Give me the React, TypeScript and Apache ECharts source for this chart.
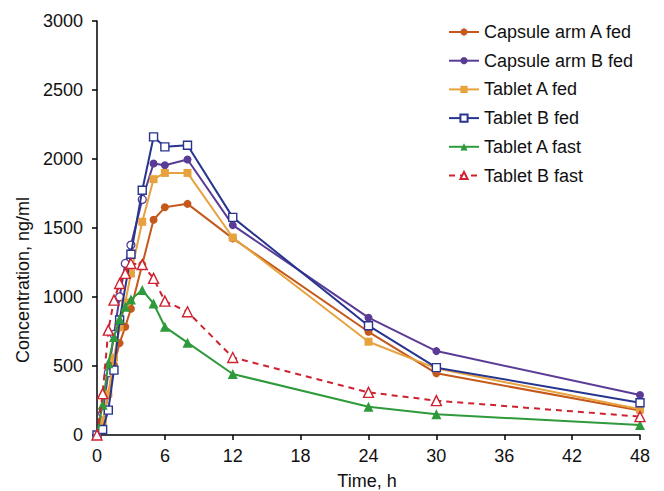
import React, { useEffect, useRef } from "react";
import * as echarts from "echarts";

const capsuleTimes = [0, 0.5, 1, 1.5, 2, 2.5, 3, 4, 5, 6, 8, 12, 24, 30, 48];
const tabletBFedTimes = [0, 0.5, 1, 1.5, 2, 3, 4, 5, 6, 8, 12, 24, 30, 48];

const capsuleAFed = [0, 96, 290, 507, 666, 784, 915, 1235, 1560, 1650, 1675, 1425, 748, 447, 178];
const capsuleBFed = [0, 157, 451, 729, 1001, 1243, 1376, 1707, 1967, 1955, 1996, 1521, 850, 608, 290];
const tabletAFed = [0, 100, 300, 560, 780, 960, 1170, 1545, 1854, 1899, 1899, 1431, 676, 483, 186];
const tabletBFed = [0, 40, 180, 470, 833, 1310, 1774, 2160, 2088, 2100, 1577, 792, 488, 234];
const tabletAFast = [0, 220, 520, 710, 840, 930, 982, 1050, 953, 784, 669, 442, 205, 150, 72];
const tabletBFast = [0, 300, 760, 977, 1098, 1171, 1243, 1235, 1135, 970, 893, 562, 309, 249, 133];

const seriesNames = [
  "Capsule arm A fed",
  "Capsule arm B fed",
  "Tablet A fed",
  "Tablet B fed",
  "Tablet A fast",
  "Tablet B fast",
];

const FONT = "'Liberation Sans', Arial, sans-serif";
const C_BROWN = "#C4591B";
const C_PURPLE = "#5A3C96";
const C_GOLD = "#E7A23E";
const C_NAVY = "#27358F";
const C_GREEN = "#2F9A3B";
const C_RED = "#CE2230";

function pairs(times: number[], vals: number[]) {
  return times.map((t, i) => [t, vals[i]]);
}

export default function App() {
  const ref = useRef<HTMLDivElement>(null);
  useEffect(() => {
    if (!ref.current) return;
    const chart = echarts.init(ref.current, null, { renderer: "svg" });
    const purpleData = capsuleTimes.map((t, i) => {
      if (t > 0 && t <= 4) {
        return {
          value: [t, capsuleBFed[i]],
          itemStyle: { color: "#ffffff", borderColor: C_PURPLE, borderWidth: 1.3 },
        };
      }
      return { value: [t, capsuleBFed[i]] };
    });
    const base = {
      type: "line",
      clip: false,
      showSymbol: true,
    };
    chart.setOption({
      animation: false,
      backgroundColor: "#ffffff",
      grid: { left: 97, right: 24, top: 21, bottom: 56, containLabel: false },
      legend: {
        orient: "vertical",
        left: 448,
        top: 23,
        padding: 0,
        itemWidth: 30,
        itemHeight: 9,
        itemGap: 10.7,
        data: seriesNames,
        textStyle: { fontFamily: FONT, fontSize: 18, color: "#111", lineHeight: 18 },
      },
      xAxis: {
        type: "value",
        min: 0,
        max: 48,
        interval: 6,
        axisLine: { show: true, lineStyle: { color: "#000", width: 1.5 } },
        axisTick: { show: true, length: 5, lineStyle: { color: "#000", width: 1.5 } },
        axisLabel: { margin: 12, fontFamily: FONT, fontSize: 18, color: "#111" },
        splitLine: { show: false },
      },
      yAxis: {
        type: "value",
        min: 0,
        max: 3000,
        interval: 500,
        axisLine: { show: true, lineStyle: { color: "#000", width: 1.5 } },
        axisTick: { show: true, length: 5, lineStyle: { color: "#000", width: 1.5 } },
        axisLabel: {
          margin: 14,
          fontFamily: FONT,
          fontSize: 18,
          color: "#111",
          formatter: (v: number) => String(v),
        },
        splitLine: { show: false },
      },
      graphic: [
        {
          type: "text",
          x: 23,
          y: 280,
          rotation: Math.PI / 2,
          style: {
            text: "Concentration, ng/ml",
            fontFamily: FONT,
            fontSize: 18,
            fill: "#111",
            textAlign: "center",
            textVerticalAlign: "middle",
          },
        },
        {
          type: "text",
          x: 367,
          y: 481,
          style: {
            text: "Time, h",
            fontFamily: FONT,
            fontSize: 18,
            fill: "#111",
            textAlign: "center",
            textVerticalAlign: "middle",
          },
        },
      ],
      series: [
        {
          ...base,
          name: seriesNames[0],
          data: pairs(capsuleTimes, capsuleAFed),
          symbol: "circle",
          symbolSize: 8,
          lineStyle: { color: C_BROWN, width: 2 },
          itemStyle: { color: C_BROWN },
          z: 2,
        },
        {
          ...base,
          name: seriesNames[1],
          data: purpleData,
          symbol: "circle",
          symbolSize: 8,
          lineStyle: { color: C_PURPLE, width: 2 },
          itemStyle: { color: C_PURPLE },
          z: 3,
        },
        {
          ...base,
          name: seriesNames[2],
          data: pairs(capsuleTimes, tabletAFed),
          symbol: "rect",
          symbolSize: 8,
          lineStyle: { color: C_GOLD, width: 2 },
          itemStyle: { color: C_GOLD },
          z: 4,
        },
        {
          ...base,
          name: seriesNames[3],
          data: pairs(tabletBFedTimes, tabletBFed),
          symbol: "rect",
          symbolSize: 8,
          lineStyle: { color: C_NAVY, width: 2 },
          itemStyle: { color: "#ffffff", borderColor: C_NAVY, borderWidth: 1.4 },
          z: 5,
        },
        {
          ...base,
          name: seriesNames[4],
          data: pairs(capsuleTimes, tabletAFast),
          symbol: "triangle",
          symbolSize: 10,
          lineStyle: { color: C_GREEN, width: 2 },
          itemStyle: { color: C_GREEN },
          z: 6,
        },
        {
          ...base,
          name: seriesNames[5],
          data: pairs(capsuleTimes, tabletBFast),
          symbol: "triangle",
          symbolSize: 10,
          lineStyle: { color: C_RED, width: 2, type: [6, 5] },
          itemStyle: { color: "#ffffff", borderColor: C_RED, borderWidth: 1.4 },
          z: 7,
        },
      ],
    });
    return () => chart.dispose();
  }, []);
  return (
    <div
      ref={ref}
      style={{ position: "fixed", left: 0, top: 0, width: 664, height: 491, background: "#fff" }}
    />
  );
}
